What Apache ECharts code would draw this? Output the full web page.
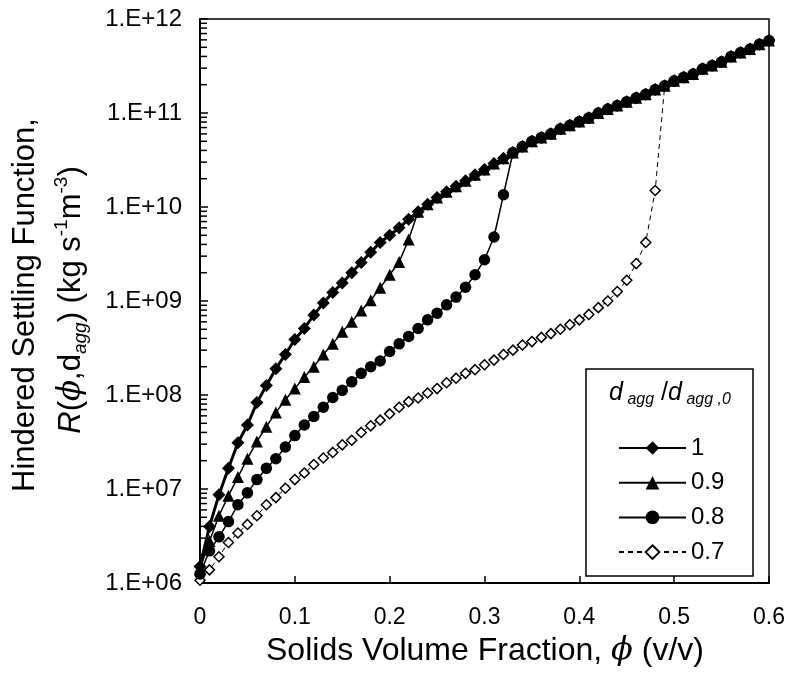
<!DOCTYPE html>
<html>
<head>
<meta charset="utf-8">
<script src="https://cdn.jsdelivr.net/npm/echarts@6/dist/echarts.min.js"></script>
<style>
html,body{margin:0;padding:0;background:#fff;}
#chart{width:788px;height:682px;}
</style>
</head>
<body>
<div id="chart"></div>
<script>
// Solids volume fraction (x)
const phi = [0,0.01,0.02,0.03,0.04,0.05,0.06,0.07,0.08,0.09,
  0.10,0.11,0.12,0.13,0.14,0.15,0.16,0.17,0.18,0.19,
  0.20,0.21,0.22,0.23,0.24,0.25,0.26,0.27,0.28,0.29,
  0.30,0.31,0.32,0.33,0.34,0.35,0.36,0.37,0.38,0.39,
  0.40,0.41,0.42,0.43,0.44,0.45,0.46,0.47,0.48,0.49,
  0.50,0.51,0.52,0.53,0.54,0.55,0.56,0.57,0.58,0.59,0.60];

// d_agg/d_agg,0 = 1 (full curve)
const R_10 = [1.5e6,4.0e6,8.7e6,1.66e7,3.1e7,4.8e7,8.3e7,1.26e8,1.9e8,2.7e8,
  3.9e8,5.1e8,7.1e8,9.5e8,1.23e9,1.55e9,2.0e9,2.57e9,3.3e9,4.2e9,
  5.0e9,6.0e9,7.4e9,8.9e9,1.07e10,1.26e10,1.45e10,1.66e10,1.9e10,2.2e10,
  2.5e10,2.9e10,3.3e10,3.8e10,4.4e10,5.0e10,5.5e10,6.0e10,6.8e10,7.4e10,
  8.1e10,8.9e10,1.0e11,1.1e11,1.2e11,1.32e11,1.45e11,1.58e11,1.78e11,1.95e11,
  2.2e11,2.4e11,2.6e11,2.95e11,3.2e11,3.5e11,4.0e11,4.4e11,4.8e11,5.4e11,5.9e11];

// d_agg/d_agg,0 = 0.9 (values before joining curve 1)
const R_09 = [1.4e6,2.8e6,5.2e6,8.5e6,1.34e7,2.1e7,3.2e7,4.6e7,6.5e7,8.9e7,
  1.17e8,1.55e8,2.0e8,2.7e8,3.5e8,4.7e8,6.0e8,7.9e8,1.02e9,1.38e9,
  1.9e9,2.6e9,4.5e9];

// d_agg/d_agg,0 = 0.8 (values before joining curve 1)
const R_08 = [1.25e6,2.2e6,3.1e6,4.5e6,6.8e6,9.1e6,1.26e7,1.66e7,2.1e7,2.8e7,
  3.7e7,4.8e7,5.9e7,7.4e7,9.4e7,1.12e8,1.38e8,1.7e8,2.0e8,2.3e8,
  2.9e8,3.5e8,4.2e8,5.1e8,6.3e8,7.4e8,9.1e8,1.1e9,1.4e9,1.9e9,
  2.75e9,4.8e9,1.35e10];

// d_agg/d_agg,0 = 0.7 (values before joining curve 1)
const R_07 = [1.07e6,1.38e6,1.9e6,2.7e6,3.4e6,4.2e6,5.2e6,6.8e6,8.1e6,1.02e7,
  1.26e7,1.48e7,1.82e7,2.14e7,2.45e7,2.95e7,3.3e7,4.0e7,4.7e7,5.4e7,
  6.3e7,7.4e7,8.5e7,9.3e7,1.05e8,1.17e8,1.35e8,1.51e8,1.7e8,1.86e8,
  2.1e8,2.35e8,2.7e8,3.0e8,3.4e8,3.7e8,4.1e8,4.5e8,5.0e8,5.6e8,
  6.3e8,7.2e8,8.5e8,1.0e9,1.26e9,1.66e9,2.5e9,4.2e9,1.5e10];

const seriesNames = ['1','0.9','0.8','0.7'];
const xTicks = [0,0.1,0.2,0.3,0.4,0.5,0.6];
// log-axis minor tick positions: mantissas within each decade
const minorMantissa = [2,3,4,5,6,7,8,9];
const decades = [1e6,1e7,1e8,1e9,1e10,1e11];

function joined(lower, stopAfterJoin) {
  const out = [];
  for (let i = 0; i < phi.length; i++) {
    if (i < lower.length) out.push([phi[i], lower[i]]);
    else {
      out.push([phi[i], R_10[i]]);
      if (stopAfterJoin) break;
    }
  }
  return out;
}
const minorTickData = [];
decades.forEach(function (d) { minorMantissa.forEach(function (m) { minorTickData.push([0, m * d]); }); });

const FONT = '"Liberation Sans", Arial, sans-serif';
const chart = echarts.init(document.getElementById('chart'), null, {renderer: 'canvas'});

const option = {
  backgroundColor: '#fff',
  animation: false,
  textStyle: {fontFamily: FONT, color: '#000'},
  grid: {left: 200, right: 18, top: 19, bottom: 99, show: true, borderColor: '#000', borderWidth: 1.5, backgroundColor: 'transparent'},
  xAxis: {
    type: 'value', min: 0, max: 0.6, interval: 0.1,
    axisLine: {lineStyle: {color: '#000', width: 2}},
    axisTick: {inside: true, length: 7, lineStyle: {color: '#000', width: 1.5}},
    axisLabel: {color: '#000', fontSize: 23, fontFamily: FONT, margin: 23,
      formatter: function (v) { return xTicks.indexOf(Math.round(v*10)/10) >= 0 ? String(Math.round(v*10)/10) : ''; }},
    splitLine: {show: false}
  },
  yAxis: {
    type: 'log', logBase: 10, min: 1e6, max: 1e12,
    axisLine: {show: true, lineStyle: {color: '#000', width: 2}},
    axisTick: {show: true, inside: true, length: 8, lineStyle: {color: '#000', width: 1.5}},
    minorTick: {show: false},
    axisLabel: {color: '#000', fontSize: 24, fontFamily: FONT, margin: 18,
      formatter: function (v) { const e = Math.round(Math.log10(v)); return '1.E+' + (e < 10 ? '0' : '') + e; }},
    splitLine: {show: false}
  },
  legend: {
    data: seriesNames,
    orient: 'vertical', left: 618, top: 436, padding: 0,
    itemWidth: 67, itemHeight: 17, itemGap: 10.7,
    selectedMode: false,
    textStyle: {fontSize: 24, color: '#000', fontFamily: FONT},
    z: 6
  },
  graphic: [
    {type: 'rect', z: 3, shape: {x: 586, y: 369, width: 167, height: 207},
      style: {fill: '#fff', stroke: '#000', lineWidth: 1.5}},
    {type: 'text', z: 6, x: 670, y: 393,
      style: {
        text: '{i|d}{sub| agg}{n| /}{i|d}{sub| agg ,0}',
        align: 'center', verticalAlign: 'middle',
        rich: {
          i: {fontSize: 25, fontStyle: 'italic', fontFamily: FONT, fill: '#000', lineHeight: 30, verticalAlign: 'middle'},
          n: {fontSize: 25, fontFamily: FONT, fill: '#000', lineHeight: 30, verticalAlign: 'middle'},
          sub: {fontSize: 16, fontStyle: 'italic', fontFamily: FONT, fill: '#000', lineHeight: 16, verticalAlign: 'bottom'}
        }
      }},
    {type: 'text', z: 6, x: 485, y: 651,
      style: {
        text: '{n|Solids Volume Fraction, }{i|ϕ}{n| (v/v)}',
        align: 'center', verticalAlign: 'middle',
        rich: {
          n: {fontSize: 32, fontFamily: FONT, fill: '#000'},
          i: {fontSize: 32, fontStyle: 'italic', fontFamily: '"DejaVu Serif", serif', fill: '#000'}
        }
      }},
    {type: 'text', z: 6, x: 25, y: 305, rotation: Math.PI / 2,
      style: {
        text: 'Hindered Settling Function,',
        fontSize: 31, fontFamily: FONT, fill: '#000',
        align: 'center', verticalAlign: 'middle'
      }},
    {type: 'text', z: 6, x: 71, y: 300, rotation: Math.PI / 2,
      style: {
        text: '{i|R}{n|(}{p|ϕ}{n|,d}{sub|agg}{n|) (kg s}{sup|-1}{n|m}{sup|-3}{n|)}',
        align: 'center', verticalAlign: 'middle',
        rich: {
          i: {fontSize: 31, fontStyle: 'italic', fontFamily: FONT, fill: '#000', lineHeight: 38, verticalAlign: 'middle'},
          p: {fontSize: 31, fontStyle: 'italic', fontFamily: '"DejaVu Serif", serif', fill: '#000', lineHeight: 38, verticalAlign: 'middle'},
          n: {fontSize: 31, fontFamily: FONT, fill: '#000', lineHeight: 38, verticalAlign: 'middle'},
          sub: {fontSize: 19, fontStyle: 'italic', fontFamily: FONT, fill: '#000', lineHeight: 18, verticalAlign: 'bottom'},
          sup: {fontSize: 19, fontFamily: FONT, fill: '#000', lineHeight: 18, verticalAlign: 'top'}
        }
      }}
  ],
  series: [
    {
      name: '1', type: 'line', z: 3,
      data: joined(R_10, false),
      symbol: 'diamond', symbolSize: 13,
      itemStyle: {color: '#000'},
      lineStyle: {color: '#000', width: 3}
    },
    {
      name: '0.9', type: 'line', z: 4,
      data: joined(R_09, false),
      symbol: 'triangle', symbolSize: 12,
      itemStyle: {color: '#000'},
      lineStyle: {color: '#000', width: 1.5}
    },
    {
      name: '0.8', type: 'line', z: 4,
      data: joined(R_08, false),
      symbol: 'circle', symbolSize: 11.5,
      itemStyle: {color: '#000'},
      lineStyle: {color: '#000', width: 1.5}
    },
    {
      name: '0.7', type: 'line', z: 2,
      data: joined(R_07, true),
      symbol: 'diamond', symbolSize: 10,
      itemStyle: {color: '#fff', borderColor: '#000', borderWidth: 1.5},
      lineStyle: {color: '#000', width: 1, type: [5, 4]}
    },
    {
      name: 'minorTicks', type: 'custom', z: 5, silent: true, clip: false,
      data: minorTickData,
      encode: {x: 0, y: 1},
      renderItem: function (params, api) {
        const p = api.coord([api.value(0), api.value(1)]);
        return {type: 'line', shape: {x1: p[0], y1: p[1], x2: p[0] + 7, y2: p[1]},
          style: {stroke: '#000', lineWidth: 1.5}};
      }
    }
  ]
};
chart.setOption(option);
</script>
</body>
</html>
